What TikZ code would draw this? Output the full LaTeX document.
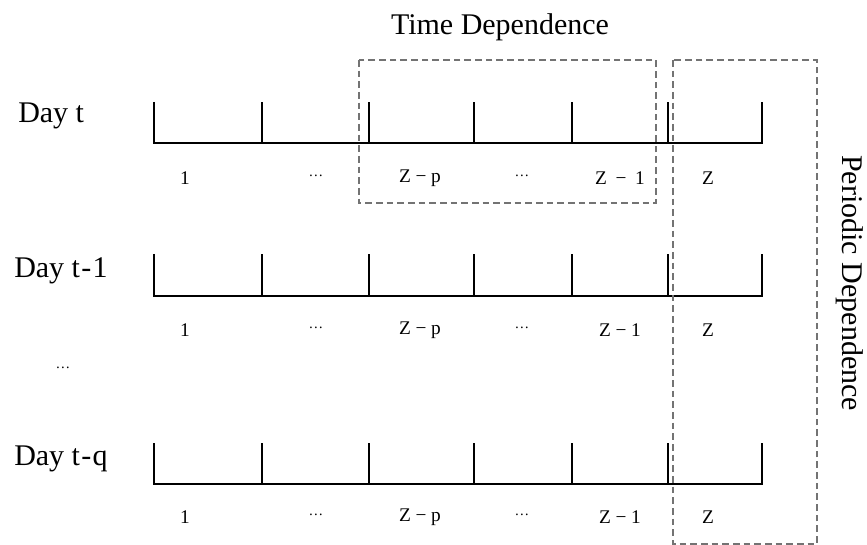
\documentclass[tikz,border=0pt]{standalone}
\usepackage{fontspec}
\setmainfont{Liberation Serif}
\begin{document}
\begin{tikzpicture}[x=0.75pt,y=-0.75pt,
  axis/.style={line width=2.2pt,line cap=butt,line join=miter},
  dbox/.style={draw=black!55,line width=0.8pt,dash pattern=on 5pt off 3pt},
  big/.style={font=\fontsize{22.5}{26}\selectfont,inner sep=0pt},
  lab/.style={font=\fontsize{14.5}{17}\selectfont,inner sep=0pt}]
\useasboundingbox (0,0) rectangle (867,545);
% rows: baseline, top, label height
\foreach \r/\b/\t/\ly in {1/143/102/178,2/296/254/330,3/484/443/517}{
  \coordinate (s\r) at (154,\b);
  \coordinate (e\r) at (762,\b);
  \draw[axis] (154,\t) -- (s\r) -- (e\r) -- (762,\t);
  \foreach \x [count=\i] in {262,369,474,572,668}{
    \coordinate (k\r\i) at (\x,\b);
    \draw[axis] (k\r\i) -- (\x,\t);
  }
  \node[lab] (one\r) at (185,\ly) {1};
  \node[lab] (da\r) at (316,\ly-2) {\fontsize{11}{12}\selectfont\textellipsis};
  \node[lab] (zp\r) at (420,\ly) {Z\hspace{3.5pt}−\hspace{3.5pt}p};
  \node[lab] (db\r) at (522,\ly-2) {\fontsize{11}{12}\selectfont\textellipsis};
  \node[lab] (z\r) at (708,\ly) {Z};
}
\node[lab] (zm1) at (620,178) {Z\hspace{6.5pt}−\hspace{6.5pt}1};
\node[lab] (zm2) at (620,330) {Z\hspace{3.5pt}−\hspace{3.5pt}1};
\node[lab] (zm3) at (620,517) {Z\hspace{3.5pt}−\hspace{3.5pt}1};
% day labels
\node[big,anchor=base west] (d1) at (18,123) {Day t};
\node[big,anchor=base west] (d2) at (14,277) {Day t\hspace{1pt}-\hspace{1pt}1};
\node[big,anchor=base west] (d3) at (14,465) {Day t\hspace{1pt}-\hspace{1pt}q};
\node[lab] (vdots) at (63,368) {\fontsize{11}{12}\selectfont\textellipsis};
% dependence boxes
\draw[dbox] (359,60) rectangle (656,203);
\draw[dbox] (673,60) rectangle (817,544);
\node[big,anchor=base] (tdep) at (500,35) {Time Dependence};
\node[big,anchor=base west,rotate=-90] (pdep) at (842,155) {Periodic Dependence};
\end{tikzpicture}
\end{document}
